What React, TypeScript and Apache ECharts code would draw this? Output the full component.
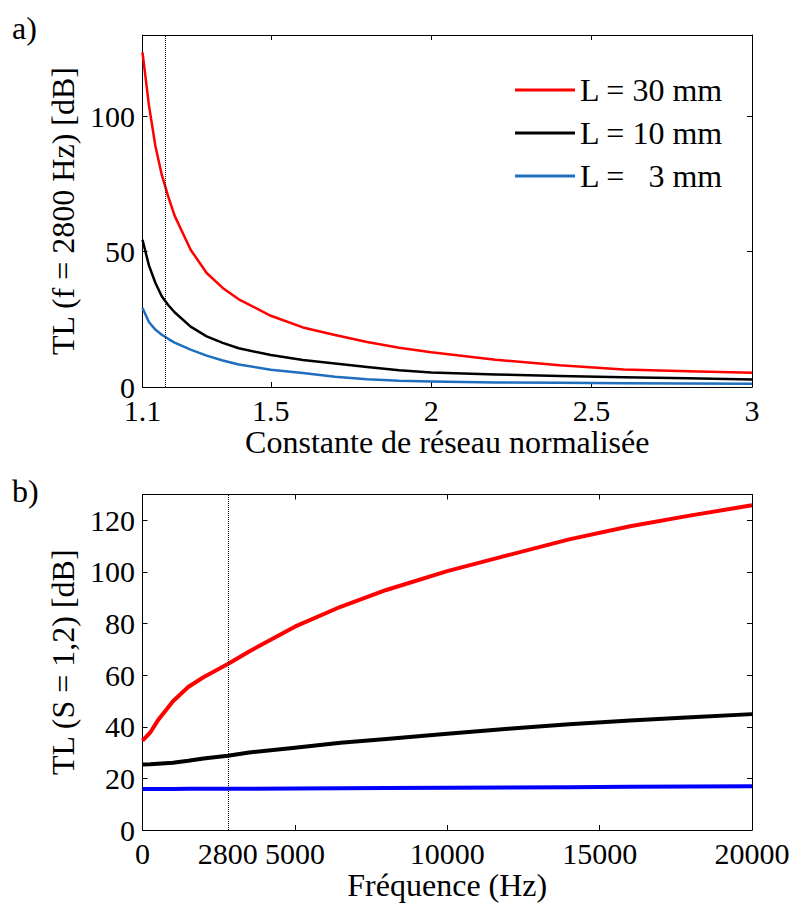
import React, { useEffect, useRef } from "react";
import * as echarts from "echarts";

// ---- Panel a) : TL at f = 2800 Hz vs normalised lattice constant ----
const spacing = [1.1, 1.12, 1.14, 1.16, 1.18, 1.2, 1.25, 1.3, 1.35, 1.4, 1.5, 1.6, 1.7, 1.8, 1.9, 2.0, 2.2, 2.4, 2.6, 2.8, 3.0];
const tlA30 = [123.6, 104.1, 89.1, 78.4, 70.4, 63.3, 50.7, 42.1, 36.6, 32.4, 26.3, 22.0, 19.2, 16.6, 14.5, 12.8, 10.1, 8.0, 6.5, 5.8, 5.3];
const tlA10 = [54.4, 44.9, 38.5, 33.5, 30.3, 27.6, 22.3, 18.7, 16.3, 14.3, 11.8, 10.0, 8.7, 7.4, 6.2, 5.4, 4.6, 4.1, 3.6, 3.2, 2.8];
const tlA3 = [29.2, 24.0, 21.2, 19.3, 17.8, 16.4, 13.8, 11.6, 9.8, 8.3, 6.4, 5.2, 3.8, 2.9, 2.3, 2.0, 1.7, 1.6, 1.4, 1.3, 1.2];
const spacingTicks = [1.1, 1.5, 2, 2.5, 3];
const tlATicks = [0, 50, 100];
const markerA = 1.171;

// ---- Panel b) : TL at S = 1,2 vs frequency ----
const freq = [0, 250, 500, 1000, 1500, 2000, 2800, 3500, 5000, 6500, 8000, 10000, 12000, 14000, 16000, 18000, 20000];
const tlB30 = [34.6, 37.7, 42.4, 49.9, 55.4, 59.2, 64.3, 69.2, 78.8, 86.5, 93.0, 100.3, 106.5, 112.6, 117.7, 121.9, 125.8];
const tlB10 = [25.4, 25.5, 25.7, 26.1, 26.8, 27.7, 28.8, 30.0, 31.9, 33.8, 35.3, 37.3, 39.2, 41.0, 42.4, 43.7, 44.9];
const tlB3 = [15.9, 15.9, 15.9, 15.9, 16.0, 16.0, 16.0, 16.0, 16.1, 16.2, 16.3, 16.4, 16.5, 16.6, 16.8, 16.9, 17.0];
const freqLabels = [0, 2800, 5000, 10000, 15000, 20000];
const freqTicks = [5000, 10000, 15000];
const tlBTicks = [0, 20, 40, 60, 80, 100, 120];
const markerB = 2800;

const legendNames = ["L = 30 mm", "L = 10 mm", "L =   3 mm"];

const FONT = "Liberation Serif";

export default function App() {
  const ref = useRef<HTMLDivElement>(null);

  useEffect(() => {
    if (!ref.current) return;
    const chart = echarts.init(ref.current, null, { renderer: "svg" });

    const grids = [
      { left: 142.5, top: 35, width: 609.5, height: 352 },
      { left: 142.5, top: 494.5, width: 609.5, height: 335.5 },
    ];

    const axisLineStyle = { show: true, lineStyle: { color: "#000", width: 1 } };
    const labelStyle = { color: "#000", fontFamily: FONT, fontSize: 30 };

    const mkX = (grid: number, min: number, max: number, pos: "bottom" | "top", ticks: number[], labels: number[] | null, name?: string) => ({
      type: "value",
      gridIndex: grid,
      position: pos,
      min,
      max,
      name: name || "",
      nameLocation: "middle",
      nameGap: 39,
      nameTextStyle: { color: "#000", fontFamily: FONT, fontSize: 32 },
      axisLine: { ...axisLineStyle, onZero: false },
      axisTick: { show: true, inside: true, length: 5, customValues: ticks, lineStyle: { color: "#000" } },
      axisLabel: labels
        ? { show: true, ...labelStyle, margin: 10, lineHeight: 26, customValues: labels, formatter: (v: number) => String(v) }
        : { show: false },
      splitLine: { show: false },
    });

    const mkY = (grid: number, min: number, max: number, pos: "left" | "right", ticks: number[], showLabels: boolean, name?: string) => ({
      type: "value",
      gridIndex: grid,
      position: pos,
      min,
      max,
      name: name || "",
      nameLocation: "middle",
      nameGap: 59,
      nameTextStyle: { color: "#000", fontFamily: FONT, fontSize: 32 },
      axisLine: { ...axisLineStyle, onZero: false },
      axisTick: { show: true, inside: true, length: 5, customValues: ticks, lineStyle: { color: "#000" } },
      axisLabel: showLabels
        ? { show: true, ...labelStyle, margin: 7.5, lineHeight: 20, customValues: ticks, formatter: (v: number) => String(v) }
        : { show: false },
      splitLine: { show: false },
    });

    const dotted = (v: number) => ({
      silent: true,
      symbol: ["none", "none"],
      label: { show: false },
      lineStyle: { type: "dotted", color: "#000", width: 1 },
      data: [{ xAxis: v }],
    });

    const lineSeries = (name: string, xi: number, xs: number[], ys: number[], color: string, width: number, extra: any = {}) => ({
      type: "line",
      name,
      xAxisIndex: xi,
      yAxisIndex: xi,
      data: xs.map((x, i) => [x, ys[i]]),
      symbol: "none",
      showSymbol: false,
      smooth: false,
      lineStyle: { color, width, join: "round" },
      itemStyle: { color },
      z: 3,
      ...extra,
    });

    chart.setOption({
      animation: false,
      backgroundColor: "#fff",
      grid: grids,
      xAxis: [
        mkX(0, 1.1, 3, "bottom", spacingTicks, spacingTicks, "Constante de réseau normalisée"),
        mkX(0, 1.1, 3, "top", spacingTicks, null),
        mkX(1, 0, 20000, "bottom", freqTicks, freqLabels, "Fréquence (Hz)"),
        mkX(1, 0, 20000, "top", freqTicks, null),
      ],
      yAxis: [
        mkY(0, 0, 130, "left", tlATicks, true, "TL (f = 2800 Hz) [dB]"),
        mkY(0, 0, 130, "right", tlATicks, false),
        mkY(1, 0, 130, "left", tlBTicks, true, "TL (S = 1,2) [dB]"),
        mkY(1, 0, 130, "right", tlBTicks, false),
      ],
      legend: {
        show: true,
        orient: "vertical",
        left: 510,
        top: 69,
        icon: "rect",
        itemWidth: 60,
        itemHeight: 3,
        itemGap: 11,
        data: legendNames,
        textStyle: { color: "#000", fontFamily: FONT, fontSize: 32 },
        selectedMode: false,
      },
      graphic: [
        { type: "text", x: 12, y: 28, style: { text: "a)", fill: "#000", fontFamily: FONT, fontSize: 32, verticalAlign: "middle" } },
        { type: "text", x: 12, y: 491, style: { text: "b)", fill: "#000", fontFamily: FONT, fontSize: 32, verticalAlign: "middle" } },
      ],
      series: [
        lineSeries(legendNames[0], 0, spacing, tlA30, "#ff0000", 2.5, { markLine: dotted(markerA) }),
        lineSeries(legendNames[1], 0, spacing, tlA10, "#000000", 2.5),
        lineSeries(legendNames[2], 0, spacing, tlA3, "#1f6fbf", 2.5),
        lineSeries("b30", 2, freq, tlB30, "#ff0000", 4, { markLine: dotted(markerB) }),
        lineSeries("b10", 2, freq, tlB10, "#000000", 4),
        lineSeries("b3", 2, freq, tlB3, "#0000ff", 4),
      ],
    });

    return () => chart.dispose();
  }, []);

  return <div ref={ref} style={{ position: "fixed", left: 0, top: 0, width: 797, height: 904 }} />;
}
